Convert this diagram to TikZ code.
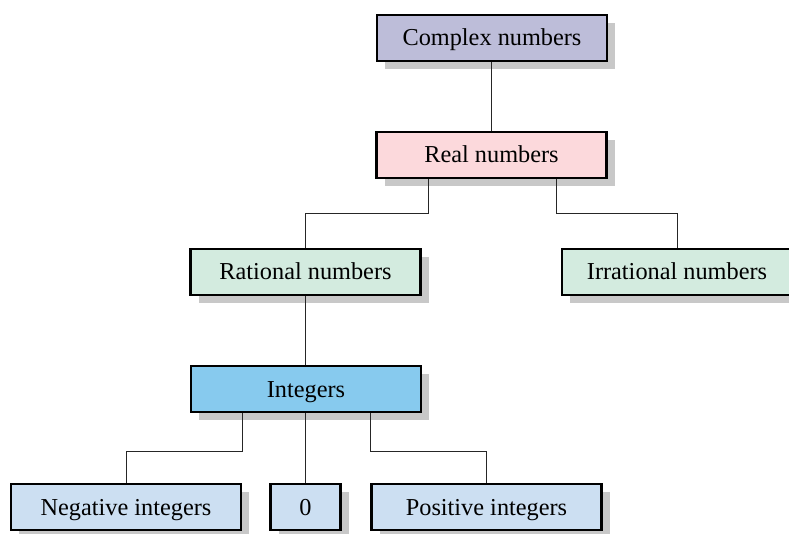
\documentclass[tikz,border=0pt]{standalone}
\usepackage{fontspec}
\setmainfont{Liberation Serif}
\usetikzlibrary{shadows}
\definecolor{cplx}{RGB}{189,189,217}
\definecolor{realc}{RGB}{252,217,220}
\definecolor{ratc}{RGB}{211,235,223}
\definecolor{intc}{RGB}{135,202,238}
\definecolor{leafc}{RGB}{204,223,242}
\definecolor{shad}{RGB}{200,200,200}
\tikzset{
  box/.style={draw=black, line width=2.6pt, minimum height=46pt, minimum width=230pt,
    inner sep=0pt, text height=16pt, text depth=0pt, font=\fontsize{24.3}{27}\selectfont,
    drop shadow={shadow xshift=8pt, shadow yshift=-8pt, fill=shad, opacity=1}},
  conn/.style={draw=black!85, line width=1pt}
}
\begin{document}
\begin{tikzpicture}[x=1pt,y=-1pt]
\useasboundingbox (0,0) rectangle (789,534);
\fill[white] (0,0) rectangle (789,534);
\node[box, fill=cplx] (cx) at (492,38) {Complex numbers};
\node[box, fill=realc] (re) at (491.5,155) {Real numbers};
\node[box, fill=ratc] (ra) at (305.5,272) {Rational numbers};
\node[box, fill=ratc] (ir) at (677,272) {Irrational numbers};
\node[box, fill=intc] (in) at (306,389) {Integers};
\node[box, fill=leafc] (ng) at (126,507) {Negative integers};
\node[box, fill=leafc, minimum width=70pt] (z) at (305.5,507) {0};
\node[box, fill=leafc] (ps) at (486.5,507) {Positive integers};
\coordinate (rl) at (428,214);
\coordinate (rr) at (556,214);
\coordinate (il) at (242,451);
\coordinate (ir2) at (370,451);
\draw[conn] (cx.south -| 491,0) -- (re.north -| 491,0);
\draw[conn] (re.south -| rl) -- (rl) -| (ra.north);
\draw[conn] (re.south -| rr) -- (rr) -| (ir.north);
\draw[conn] (ra.south) -- (in.north -| ra.south);
\draw[conn] (in.south -| il) -- (il) -| (ng.north);
\draw[conn] (in.south -| z.north) -- (z.north);
\draw[conn] (in.south -| ir2) -- (ir2) -| (ps.north);
\end{tikzpicture}
\end{document}
